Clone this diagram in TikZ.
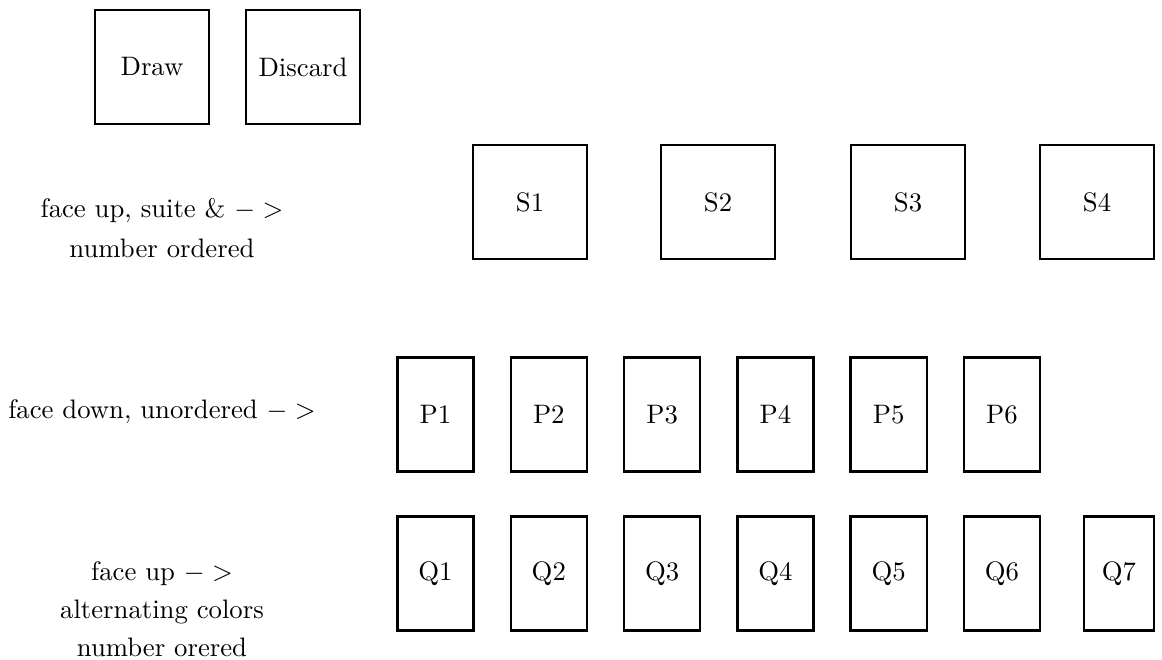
\documentclass[tikz,border=0pt]{standalone}
\begin{document}
\begin{tikzpicture}[x=0.0131579cm, y=-0.0131579cm,
  pile/.style={draw, line width=0.9pt, inner sep=0pt, minimum width=1.5cm, minimum height=1.5cm},
  card/.style={draw, line width=0.9pt, inner sep=0pt, minimum width=1cm, minimum height=1.5cm},
  lbl/.style={align=center, inner sep=0pt}]
\useasboundingbox (0,0) rectangle (1162,660);
\node[pile] (draw) at (152,67) {Draw};
\node[pile] (discard) at (303,67) {Discard};
\node[lbl] (t1) at (162,228) {face up, suite \& $->$\\[3pt]number ordered};
\node[pile] (s1) at (530,202) {S1};
\node[pile] (s2) at (718,202) {S2};
\node[pile] (s3) at (908,202) {S3};
\node[pile] (s4) at (1097,202) {S4};
\node[lbl] (t2) at (162,412) {face down, unordered $->$};
\foreach \i in {1,...,6} {
  \node[card] (p\i) at ({435.5+113.3*(\i-1)},414.5) {P\i};
}
\node[lbl] (t3) at (162,609) {face up $->$\\[2.3pt]alternating colors\\[2.3pt]number orered};
\foreach \i in {1,...,6} {
  \node[card] (q\i) at ({435.5+113.3*(\i-1)},573.5) {Q\i};
}
\node[card, minimum width=0.92cm] (q7) at (1119,573.5) {Q7};
\end{tikzpicture}
\end{document}
